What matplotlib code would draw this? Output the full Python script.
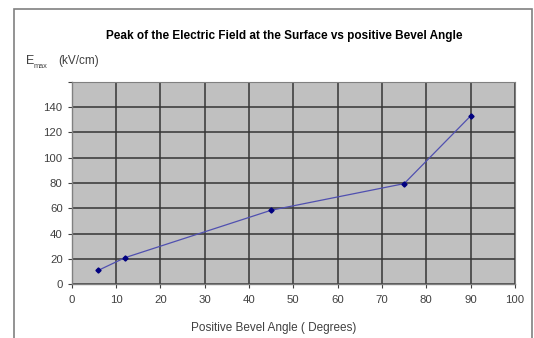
import matplotlib
matplotlib.use("Agg")
import matplotlib.pyplot as plt
from matplotlib.patches import Rectangle

angle = [6, 12, 45, 75, 90]
emax = [11, 21, 58.5, 79.5, 133]
xticks = [0, 10, 20, 30, 40, 50, 60, 70, 80, 90, 100]
yticks = [0, 20, 40, 60, 80, 100, 120, 140]

plt.rcParams['font.family'] = ['Liberation Sans', 'DejaVu Sans']

W, H = 534, 338
fig = plt.figure(figsize=(W / 100, H / 100), dpi=100)
fig.patch.set_facecolor('white')

# outer chart frame
fig.patches.append(Rectangle((14 / W, -0.05), (531.5 - 14) / W, 1.05 - 9 / H,
                             transform=fig.transFigure, fill=False,
                             edgecolor='#808080', linewidth=1.2, zorder=0))

ax = fig.add_axes([71.7 / W, 1 - 284.3 / H, (515 - 71.7) / W, (284.3 - 81.7) / H])
ax.set_facecolor('#C0C0C0')
ax.set_xlim(0, 100)
ax.set_ylim(0, 160)
ax.set_xticks(xticks)
ax.set_yticks(yticks + [160])
ax.set_yticklabels([str(v) for v in yticks] + [''])
ax.grid(True, color='#353535', linewidth=1.1)
ax.set_axisbelow(True)
for s in ['top', 'right']:
    ax.spines[s].set_color('#808080')
    ax.spines[s].set_linewidth(0.8)
for s in ['left', 'bottom']:
    ax.spines[s].set_color('#808080')
    ax.spines[s].set_linewidth(1.0)
ax.tick_params(axis='both', labelsize=8.2, colors='#404040', length=3, width=0.8,
               labelcolor='#404040')
ax.tick_params(axis='x', pad=5)

ax.plot(angle, emax, color='#5050B0', linewidth=0.9, marker='D', markersize=2.6,
        markerfacecolor='#000080', markeredgecolor='#000080', zorder=3)

fig.text(284.5 / W, 1 - 36 / H, 'Peak of the Electric Field at the Surface vs positive Bevel Angle',
         ha='center', va='center', fontsize=8.5, fontweight='bold', color='black')
fig.text(26 / W, 1 - 61 / H, 'E', ha='left', va='center', fontsize=9, color='#404040')
fig.text(34 / W, 1 - 66 / H, 'max', ha='left', va='center', fontsize=5.3, color='#404040')
fig.text(58 / W, 1 - 61 / H, '(kV/cm)', ha='left', va='center', fontsize=8.5, color='#404040')
fig.text(274 / W, 1 - 328 / H, 'Positive Bevel Angle ( Degrees)', ha='center', va='center',
         fontsize=8.5, color='#404040')

fig.savefig('out.png', dpi=100)
